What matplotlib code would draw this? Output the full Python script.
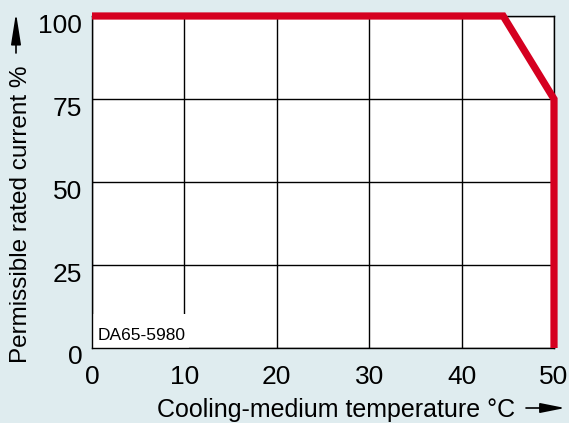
import matplotlib
matplotlib.use("Agg")
import matplotlib.pyplot as plt
import matplotlib.transforms as mtransforms
from matplotlib.patches import Rectangle, FancyArrowPatch

# Data
temperature = [0, 44.5, 50, 50]
current = [100, 100, 75, 0]
x_ticks = [0, 10, 20, 30, 40, 50]
y_ticks = [0, 25, 50, 75, 100]
x_label = "Cooling-medium temperature °C"
y_label = "Permissible rated current %"
code_label = "DA65-5980"

BG = "#dfecef"
RED = "#d50020"
FONT = "Liberation Sans"
plt.rcParams["font.family"] = [FONT, "DejaVu Sans"]

W, H = 569, 423
fig = plt.figure(figsize=(W / 100, H / 100), dpi=100, facecolor=BG)
L, R, T, B = 92, 554, 16, 348
ax = fig.add_axes([L / W, 1 - B / H, (R - L) / W, (B - T) / H])
ax.set_facecolor("white")
ax.set_xlim(0, 50)
ax.set_ylim(0, 100)
ax.set_xticks(x_ticks)
ax.set_yticks(y_ticks)
ax.grid(True, color="black", linewidth=1.0, zorder=1)
ax.set_axisbelow(True)
for s in ax.spines.values():
    s.set_color("black")
    s.set_linewidth(1.0)
ax.tick_params(length=0, labelsize=19)
ax.tick_params(axis="y", pad=7)
ax.tick_params(axis="x", pad=12)

# shift y tick labels downward a little
offset = mtransforms.ScaledTranslation(0, -7 / 100, fig.dpi_scale_trans)
for lbl in ax.get_yticklabels():
    lbl.set_transform(lbl.get_transform() + offset)

# white patch behind code label
ax.add_patch(Rectangle((0, 0), 10.5, 10.3, facecolor="white", edgecolor="none",
                       zorder=1.5, transform=ax.transData))
ax.text(0.6, 1.5, code_label, fontsize=12.5, ha="left", va="bottom", zorder=3)

ax.plot(temperature, current, color=RED, linewidth=5.2, solid_joinstyle="miter",
        solid_capstyle="butt", zorder=4, clip_on=False)

# axis labels
fig.text(515 / W, 1 - 417 / H, x_label, fontsize=18, ha="right", va="baseline")
fig.text(21 / W, 1 - 214 / H, y_label, fontsize=17.5, rotation=90,
         ha="center", va="center")

# arrows
fig.patches.append(FancyArrowPatch((526 / W, 1 - 408 / H), (565 / W, 1 - 408 / H),
                                   transform=fig.transFigure,
                                   arrowstyle="-|>,head_length=15,head_width=3",
                                   shrinkA=0, shrinkB=0,
                                   color="black", linewidth=1.2, mutation_scale=1))
fig.patches.append(FancyArrowPatch((16 / W, 1 - 53 / H), (16 / W, 1 - 13 / H),
                                   transform=fig.transFigure,
                                   arrowstyle="-|>,head_length=19,head_width=3",
                                   shrinkA=0, shrinkB=0,
                                   color="black", linewidth=1.2, mutation_scale=1))

fig.savefig("out.png", dpi=100, facecolor=BG)
